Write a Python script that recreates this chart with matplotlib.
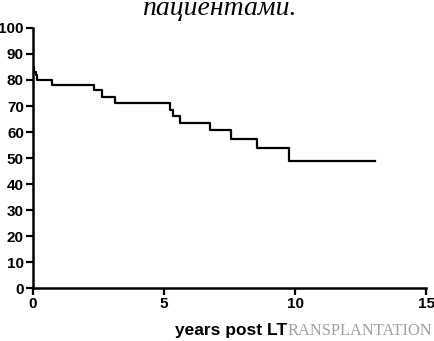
import matplotlib
matplotlib.use('Agg')
import matplotlib.pyplot as plt

# survival curve (years, percent)
t = [0, 0.05, 0.1, 0.15, 0.74, 2.33, 2.62, 3.13, 5.23, 5.33, 5.61, 6.76, 7.55, 8.54, 9.75, 13.05]
s = [85, 83, 82, 80, 78, 76, 73.6, 71.2, 68.5, 66, 63.5, 60.6, 57.5, 53.7, 49, 49]

xticks = [0, 5, 10, 15]
yticks = list(range(0, 101, 10))

plt.rcParams['font.family'] = ['Liberation Sans', 'DejaVu Sans']

fig = plt.figure(figsize=(4.34, 3.41), dpi=100)
ax = fig.add_axes([0.076, 0.155, 0.906, 0.763])

ax.step(t, s, where='post', color='black', lw=1.6)

ax.set_xlim(0, 15)
ax.set_ylim(0, 100)
ax.set_xticks(xticks)
ax.set_yticks(yticks)
ax.set_xticklabels([str(v) for v in xticks], fontweight='bold', fontsize=11)
ax.set_yticklabels([str(v) for v in yticks], fontweight='bold', fontsize=11)
ax.tick_params(direction='out', length=5, width=1.6, pad=1.5)
for side in ['top', 'right']:
    ax.spines[side].set_visible(False)
for side in ['left', 'bottom']:
    ax.spines[side].set_linewidth(1.8)

fig.text(0.505, 1 - 15/341, 'пациентами.', fontsize=20, style='italic',
         family='Liberation Serif', ha='center', va='baseline')
fig.text(287/434, 1 - 335/341, 'years post LT', fontsize=12.5, fontweight='bold',
         ha='right', va='baseline')
fig.text(287/434, 1 - 335/341, 'RANSPLANTATION', fontsize=11.8, color='#a0a0a0',
         family='Liberation Serif', ha='left', va='baseline')

fig.savefig('out.png', dpi=100)
